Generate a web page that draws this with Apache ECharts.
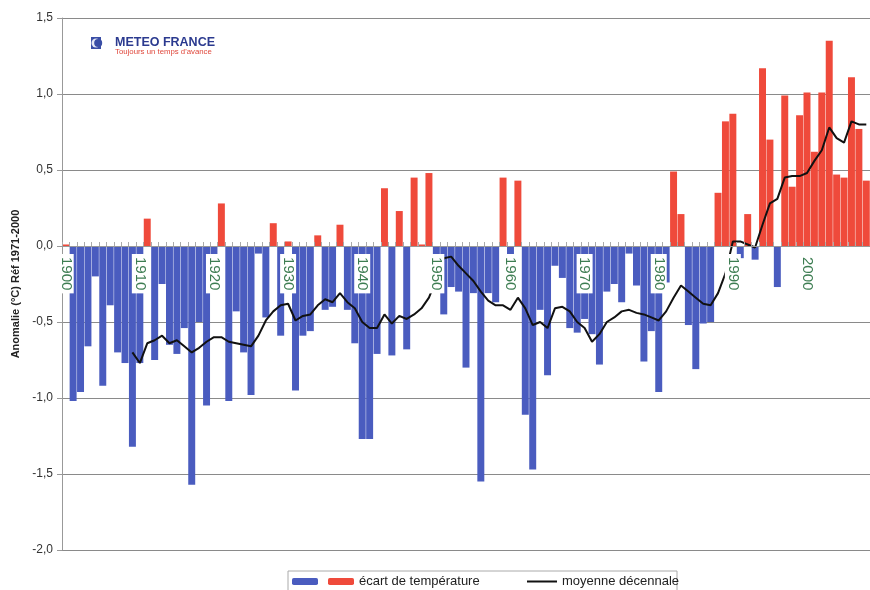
<!DOCTYPE html>
<html>
<head>
<meta charset="utf-8">
<script src="https://cdn.jsdelivr.net/npm/echarts@6/dist/echarts.min.js"></script>
<style>
html,body{margin:0;padding:0;background:#fff;}
#chart{width:870px;height:590px;}
</style>
</head>
<body>
<div id="chart"></div>
<script>
// Years 1900 .. 2008
const years = [];
for (let y = 1900; y <= 2008; y++) years.push(String(y));

// Annual temperature anomaly (°C, ref 1971-2000)
const anomalie = [
  0.01, -1.02, -0.96, -0.66, -0.20, -0.92, -0.39, -0.70, -0.77, -1.32, // 1900-1909
  -0.77, 0.18, -0.75, -0.25, -0.65, -0.71, -0.54, -1.57, -0.50, -1.05, // 1910-1919
  -0.30, 0.28, -1.02, -0.43, -0.70, -0.98, -0.05, -0.47, 0.15, -0.59,  // 1920-1929
  0.03, -0.95, -0.59, -0.56, 0.07, -0.42, -0.40, 0.14, -0.42, -0.64,   // 1930-1939
  -1.27, -1.27, -0.71, 0.38, -0.72, 0.23, -0.68, 0.45, 0.01, 0.48,     // 1940-1949
  -0.10, -0.45, -0.27, -0.30, -0.80, -0.31, -1.55, -0.31, -0.37, 0.45, // 1950-1959
  -0.09, 0.43, -1.11, -1.47, -0.42, -0.85, -0.13, -0.21, -0.54, -0.57, // 1960-1969
  -0.48, -0.58, -0.78, -0.30, -0.25, -0.37, -0.05, -0.26, -0.76, -0.56, // 1970-1979
  -0.96, -0.24, 0.49, 0.21, -0.52, -0.81, -0.51, -0.50, 0.35, 0.82,    // 1980-1989
  0.87, -0.08, 0.21, -0.09, 1.17, 0.70, -0.27, 0.99, 0.39, 0.86,       // 1990-1999
  1.01, 0.62, 1.01, 1.35, 0.47, 0.45, 1.11, 0.77, 0.43                 // 2000-2008
];

// Decadal moving average (null where not drawn)
const moyenne = [
  null, null, null, null, null, null, null, null, null, -0.70,          // 1900-1909
  -0.77, -0.64, -0.62, -0.59, -0.64, -0.62, -0.66, -0.70, -0.67, -0.63, // 1910-1919
  -0.60, -0.60, -0.63, -0.64, -0.65, -0.66, -0.59, -0.49, -0.43, -0.39, // 1920-1929
  -0.38, -0.49, -0.46, -0.45, -0.39, -0.35, -0.37, -0.31, -0.37, -0.41, // 1930-1939
  -0.50, -0.54, -0.54, -0.45, -0.51, -0.46, -0.48, -0.45, -0.41, -0.34, // 1940-1949
  -0.22, -0.08, -0.07, -0.13, -0.18, -0.23, -0.30, -0.36, -0.39, -0.39, // 1950-1959
  -0.42, -0.34, -0.41, -0.52, -0.50, -0.54, -0.41, -0.40, -0.43, -0.50, // 1960-1969
  -0.54, -0.63, -0.58, -0.50, -0.47, -0.43, -0.42, -0.44, -0.45, -0.47, // 1970-1979
  -0.49, -0.43, -0.34, -0.26, -0.30, -0.34, -0.38, -0.39, -0.31, -0.18, // 1980-1989
  0.03, 0.03, 0.01, -0.01, 0.14, 0.28, 0.31, 0.45, 0.46, 0.46,          // 1990-1999
  0.48, 0.56, 0.63, 0.78, 0.71, 0.68, 0.82, 0.80, 0.80                  // 2000-2008
];

const yTicks = { min: -2.0, max: 1.5, step: 0.5 };

const negData = anomalie.map(v => (v < 0 ? v : '-'));
const posData = anomalie.map(v => (v >= 0 ? v : '-'));

// grid geometry: top 18, bottom edge at 550 -> x axis moved up to the zero line
const gridTop = 18, gridBottomY = 550;
const zeroOffset = -(gridBottomY - (gridTop + (yTicks.max / (yTicks.max - yTicks.min)) * (gridBottomY - gridTop)));

const chart = echarts.init(document.getElementById('chart'), null, { renderer: 'canvas' });
chart.setOption({
  animation: false,
  backgroundColor: '#fff',
  textStyle: { fontFamily: 'Liberation Sans, Arial, sans-serif' },
  grid: { left: 62, right: 0, top: gridTop, bottom: 590 - gridBottomY, containLabel: false },
  legend: [
    {
      left: 292, top: 575, padding: 0, itemGap: 10, itemWidth: 26, itemHeight: 7,
      selectedMode: false,
      data: ['neg', 'écart de température'],
      formatter: n => (n === 'neg' ? '' : n),
      textStyle: { fontSize: 13, color: '#222' }
    },
    {
      left: 527, top: 575, padding: 0, itemWidth: 30, itemHeight: 2,
      selectedMode: false,
      data: [{ name: 'moyenne décennale', icon: 'rect' }],
      textStyle: { fontSize: 13, color: '#222' }
    }
  ],
  xAxis: {
    type: 'category',
    data: years,
    z: 5,
    offset: zeroOffset,
    axisLine: { onZero: false, lineStyle: { color: '#999', width: 1 } },
    axisTick: { show: true, inside: true, length: 4, interval: 0, lineStyle: { color: '#aaa' } },
    axisLabel: {
      interval: (i, v) => (+v) % 10 === 0,
      rotate: -90,
      margin: 8,
      color: '#3d7d52',
      fontSize: 15,
      lineHeight: 14,
      backgroundColor: '#fff',
      padding: [1, 3, 1, 3]
    },
    splitLine: { show: false }
  },
  yAxis: {
    type: 'value',
    min: yTicks.min, max: yTicks.max, interval: yTicks.step,
    name: 'Anomalie (°C) Réf 1971-2000',
    nameLocation: 'middle',
    nameGap: 38,
    nameTextStyle: { fontSize: 11, fontWeight: 'bold', color: '#222' },
    axisLine: { show: true, lineStyle: { color: '#999' } },
    axisTick: { show: true, length: 5, lineStyle: { color: '#999' } },
    axisLabel: {
      margin: 9, fontSize: 12, color: '#333',
      formatter: v => v.toFixed(1).replace('.', ',')
    },
    splitLine: { show: true, lineStyle: { color: '#8a8a8a', width: 1 } }
  },
  series: [
    {
      name: 'neg', type: 'bar', data: negData,
      barGap: '-100%', barCategoryGap: '6%',
      itemStyle: { color: '#4a5cbf' }
    },
    {
      name: 'écart de température', type: 'bar', data: posData,
      barGap: '-100%', barCategoryGap: '6%',
      itemStyle: { color: '#ef4a3b' }
    },
    {
      name: 'moyenne décennale', type: 'line', data: moyenne,
      symbol: 'none', connectNulls: false, z: 3,
      lineStyle: { color: '#111', width: 2 },
      itemStyle: { color: '#111' }
    }
  ],
  graphic: [
    { type: 'rect', shape: { x: 91, y: 37, width: 10, height: 12 }, style: { fill: '#3a4ea6' } },
    { type: 'circle', shape: { cx: 96, cy: 43, r: 4.5 }, style: { fill: '#e6e9f6' } },
    { type: 'circle', shape: { cx: 98.2, cy: 43, r: 4 }, style: { fill: '#3a4ea6' } },
    { type: 'text', x: 115, y: 36, style: { text: 'METEO FRANCE', font: 'bold 12.5px "Liberation Sans", Arial, sans-serif', fill: '#2b3a8f' } },
    { type: 'text', x: 115, y: 48, style: { text: "Toujours un temps d'avance", font: '7.8px "Liberation Sans", Arial, sans-serif', fill: '#e0483c' } },
    { type: 'rect', shape: { x: 288, y: 571, width: 389, height: 24 }, style: { fill: 'none', stroke: '#aaa', lineWidth: 1 } }
  ]
});
</script>
</body>
</html>
